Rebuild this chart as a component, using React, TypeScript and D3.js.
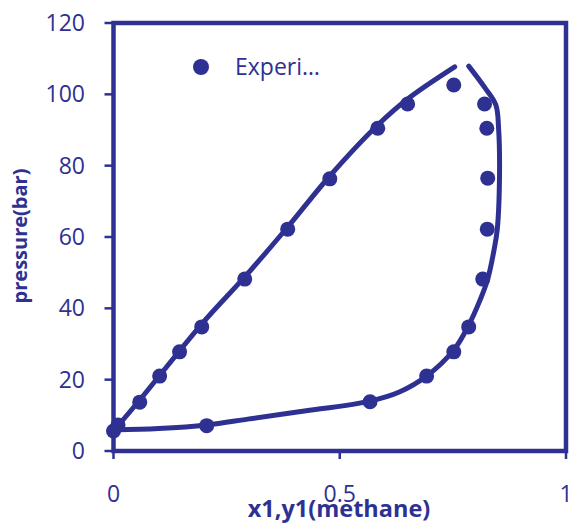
import React from 'react';
import * as d3 from 'd3';

// experimental points (liquid x1 and vapour y1)
const liquidX = [0, 0.01, 0.058, 0.102, 0.146, 0.195, 0.29, 0.385, 0.478, 0.584, 0.65, 0.752];
const liquidP = [5.6, 7.3, 13.7, 21.0, 27.8, 34.8, 48.2, 62.2, 76.3, 90.5, 97.3, 102.6];
const vaporX = [0.206, 0.567, 0.692, 0.752, 0.785, 0.816, 0.826, 0.827, 0.825, 0.82];
const vaporP = [7.1, 13.8, 21.0, 27.8, 34.8, 48.2, 62.2, 76.5, 90.5, 97.3];

// model curves
const bubbleX = [0, 0.058, 0.195, 0.29, 0.385, 0.478, 0.584, 0.65, 0.754];
const bubbleP = [5.6, 14.3, 35.6, 48.8, 62.8, 77.1, 91.4, 98.7, 107.7];
const dewX = [0, 0.1, 0.206, 0.3, 0.41, 0.567, 0.633, 0.692, 0.752, 0.785, 0.81, 0.827, 0.841, 0.848, 0.853, 0.851, 0.845, 0.821, 0.785];
const dewP = [5.9, 6.3, 7.3, 9.0, 11.0, 14.0, 16.6, 21, 28.3, 35.3, 42.3, 48.2, 56.4, 62, 76.5, 90.5, 97, 101.8, 107.9];

const xTicks = [0, 0.5, 1];
const xTickLabels = ['0', '0.5', '1'];
const yTicks = [0, 20, 40, 60, 80, 100, 120];

const legendLabel = 'Experi…';
const xTitle = 'x1,y1(methane)';
const yTitle = 'pressure(bar)';

const color = '#2E3192';
const font = "'Open Sans', sans-serif";

const App = () => {
  const width = 571;
  const height = 523;

  const x = d3.scaleLinear().domain([0, 1]).range([113.5, 566]);
  const y = d3.scaleLinear().domain([0, 120]).range([451, 23]);

  const line = d3.line<[number, number]>()
    .x(d => x(d[0]))
    .y(d => y(d[1]))
    .curve(d3.curveCatmullRom.alpha(0.5));

  const bubble = bubbleX.map((v, i) => [v, bubbleP[i]] as [number, number]);
  const dew = dewX.map((v, i) => [v, dewP[i]] as [number, number]);
  const liquid = liquidX.map((v, i) => [v, liquidP[i]]);
  const vapor = vaporX.map((v, i) => [v, vaporP[i]]);

  return (
    <svg width={width} height={height}
      style={{ position: 'absolute', left: 0, top: 0, display: 'block' }}
      fontFamily={font}>
      {/* y ticks */}
      {yTicks.map(t => (
        <g key={'y' + t}>
          <line x1={x(0) - 9} x2={x(0)} y1={y(t)} y2={y(t)} stroke={color} strokeWidth={2.5} />
          <text x={85} y={y(t)} dy="0.35em" textAnchor="end" fontSize={23} fill={color}>{t}</text>
        </g>
      ))}
      {/* x ticks */}
      {xTicks.map((t, i) => (
        <g key={'x' + t}>
          <line x1={x(t)} x2={x(t)} y1={y(0)} y2={y(0) + 8} stroke={color} strokeWidth={2.5} />
          <text x={x(t)} y={502} textAnchor="middle" fontSize={23} fill={color}>{xTickLabels[i]}</text>
        </g>
      ))}

      {/* frame */}
      <rect x={x(0)} y={y(120)} width={x(1) - x(0)} height={y(0) - y(120)}
        fill="none" stroke={color} strokeWidth={4.5} />

      {/* curves */}
      <path d={line(bubble) || ''} fill="none" stroke={color} strokeWidth={5} strokeLinecap="round" />
      <path d={line(dew) || ''} fill="none" stroke={color} strokeWidth={5} strokeLinecap="round" />

      {/* points */}
      {liquid.concat(vapor).map((d, i) => (
        <circle key={i} cx={x(d[0])} cy={y(d[1])} r={7.5} fill={color} />
      ))}

      {/* legend */}
      <circle cx={201} cy={67} r={8} fill={color} />
      <text x={235} y={75} fontSize={23} fill={color}>{legendLabel}</text>

      {/* axis titles */}
      <text x={339} y={517} textAnchor="middle" fontSize={23.5} fontWeight="bold" fill={color}>{xTitle}</text>
      <text transform="translate(27,236) rotate(-90)" textAnchor="middle" fontSize={20} fontWeight="bold" fill={color}>{yTitle}</text>
    </svg>
  );
};

export default App;
